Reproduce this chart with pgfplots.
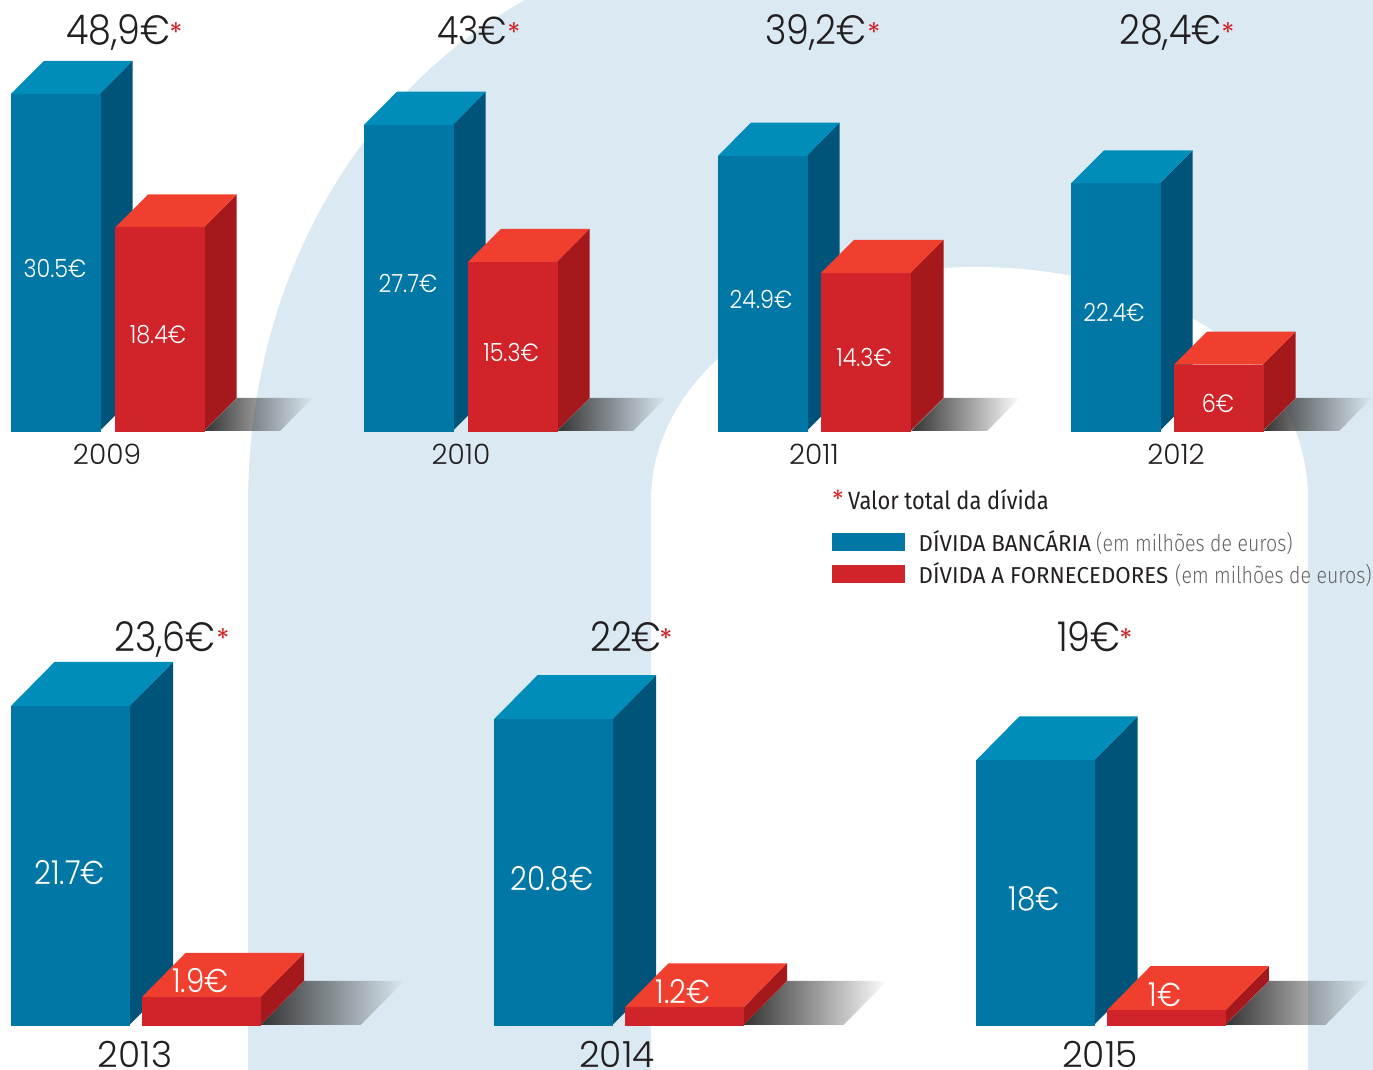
\documentclass[border=0pt]{standalone}
\usepackage{fontspec}
\setmainfont{Poppins Light}[FakeStretch=0.89]
\newfontfamily\yr{Poppins Light}
\newfontfamily\reg{Poppins}
\newfontfamily\leg{Fira Sans}[FakeStretch=0.97]
\newfontfamily\legn{Fira Sans}[FakeStretch=0.875]
\newfontfamily\legl{Fira Sans Light}[FakeStretch=0.85]
\usepackage{pgfplots}
\pgfplotsset{compat=1.18}
\usetikzlibrary{fadings}
\definecolor{blueF}{HTML}{0077A4}
\definecolor{blueS}{HTML}{005479}
\definecolor{blueT}{HTML}{008DBA}
\definecolor{redF}{HTML}{D0232A}
\definecolor{redS}{HTML}{A5181B}
\definecolor{redT}{HTML}{F13F2F}
\definecolor{pale}{HTML}{DAE9F2}
\definecolor{ink}{HTML}{231F20}
\pgfplotsset{base/.style={hide axis,scale only axis,clip=false,xmin=0,xmax=1373,width=1373pt,anchor=south west,no markers}}
% x0, value, width, depth x, front, side, top
\newcommand{\barthree}[7]{%
  \pgfmathsetmacro{\xa}{#1+#3}\pgfmathsetmacro{\xb}{#1+#4}\pgfmathsetmacro{\xc}{#1+#3+#4}\pgfmathsetmacro{\yt}{#2+3}%
  \addplot[draw=none,fill=#6] coordinates {(\xa,0)(\xc,3)(\xc,\yt)(\xa,#2)} --cycle;
  \addplot[draw=none,fill=#7] coordinates {(#1,#2)(\xb,\yt)(\xc,\yt)(\xa,#2)} --cycle;
  \addplot[draw=#5,line width=0.3pt,fill=#5] coordinates {(#1,0)(\xa,0)(\xa,#2)(#1,#2)} --cycle;
}
% x0 of the shadow, depth x, length
\newcommand{\shadow}[3]{%
  \pgfmathsetmacro{\xb}{#1+#2}\pgfmathsetmacro{\xc}{#1+#3}\pgfmathsetmacro{\xd}{#1+#2+#3}%
  \addplot[draw=none,fill=black!80,path fading=east] coordinates {(#1,0)(\xb,3)(\xd,3)(\xc,0)} --cycle;
}
\newcommand{\bigtot}[3]{\node[anchor=base west,text=ink,inner sep=0pt] at (axis cs:#1,#2) {\fontsize{41}{41}\selectfont #3};}
\newcommand{\astk}[2]{\node[text=redF,inner sep=0pt] at (axis cs:#1,#2) {\fontsize{27}{27}\selectfont\reg *};}
\newcommand{\lab}[5]{\node[text=#5,inner sep=0pt] at (axis cs:#1,#2) {\fontsize{#3}{#3}\selectfont #4};}
\begin{document}
\begin{tikzpicture}[x=1pt,y=1pt]
\path[use as bounding box] (0,0) rectangle (1373,1070);
% background
\begin{axis}[base,at={(0pt,0pt)},height=1070pt,ymin=0,ymax=1070,y dir=reverse]
\fill[pale] (axis cs:248,1070) -- (axis cs:248,500) .. controls (axis cs:250,270) and (axis cs:365,90) .. (axis cs:525,0) -- (axis cs:1373,0) -- (axis cs:1373,1070) -- cycle;
\fill[white] (axis cs:651,1070) -- (axis cs:651,500) .. controls (axis cs:651,370) and (axis cs:800,267) .. (axis cs:975,267) .. controls (axis cs:1150,267) and (axis cs:1308,350) .. (axis cs:1308,500) -- (axis cs:1308,1070) -- cycle;
\end{axis}
% top row: 11.05 px per unit
\begin{axis}[base,at={(0pt,639pt)},height=431pt,ymin=0,ymax=39.0]
\barthree{11}{30.5}{88.7}{33}{blueF}{blueS}{blueT}
\shadow{204}{33}{76}
\barthree{115}{18.4}{88.7}{33}{redF}{redS}{redT}
\barthree{364}{27.7}{88.7}{33}{blueF}{blueS}{blueT}
\shadow{557}{33}{76}
\barthree{468}{15.3}{88.7}{33}{redF}{redS}{redT}
\barthree{718}{24.9}{88.7}{33}{blueF}{blueS}{blueT}
\shadow{911}{33}{76}
\barthree{821}{14.3}{89.5}{33}{redF}{redS}{redT}
\barthree{1071}{22.4}{88.7}{33}{blueF}{blueS}{blueT}
\shadow{1263}{33}{76}
\barthree{1174}{6}{88.7}{33}{redF}{redS}{redT}
\end{axis}
% bottom row: 14.7 px per unit
\begin{axis}[base,at={(0pt,45pt)},height=1025pt,ymin=0,ymax=69.73]
\barthree{11}{21.7}{118.5}{43.5}{blueF}{blueS}{blueT}
\shadow{260.7}{43.5}{100}
\barthree{142}{1.9}{118.5}{43.5}{redF}{redS}{redT}
\barthree{494}{20.8}{118.5}{43.5}{blueF}{blueS}{blueT}
\shadow{743.5}{43.5}{100}
\barthree{625}{1.2}{118.5}{43.5}{redF}{redS}{redT}
\barthree{976}{18}{118}{43.5}{blueF}{blueS}{blueT}
\shadow{1225.5}{43.5}{100}
\barthree{1107}{1}{118.3}{43.5}{redF}{redS}{redT}
\end{axis}
% text and legend
\begin{axis}[base,at={(0pt,0pt)},height=1070pt,ymin=0,ymax=1070,y dir=reverse]
\addplot[draw=none,fill=blueF] coordinates {(832,533)(905,533)(905,551)(832,551)} --cycle;
\addplot[draw=none,fill=redF] coordinates {(832,565)(905,565)(905,583)(832,583)} --cycle;
\bigtot{66}{45}{48,9€}\astk{176}{33}
\bigtot{437}{45}{\fontsize{39}{39}\selectfont 43€}\astk{514}{33}
\bigtot{765}{45}{39,2€}\astk{874}{33}
\bigtot{1119}{45}{28,4€}\astk{1228}{33}
\bigtot{114}{651}{23,6€}\astk{223}{639}
\bigtot{590}{651}{22€}\astk{666}{639}
\bigtot{1057}{651}{19€}\astk{1126}{639}
\lab{55}{268}{25}{30.5€}{white}
\lab{158}{335}{25}{18.4€}{white}
\lab{408}{283}{25}{27.7€}{white}
\lab{511}{352}{25}{15.3€}{white}
\lab{761}{299}{25}{24.9€}{white}
\lab{864}{357}{25}{14.3€}{white}
\lab{1114}{312}{25}{22.4€}{white}
\lab{1218}{403}{25}{6€}{white}
\lab{69.5}{873}{33}{21.7€}{white}
\lab{552}{879}{33}{20.8€}{white}
\lab{1034}{899}{33}{18€}{white}
\lab{200.5}{981}{33}{1.9€}{white}
\lab{683}{992}{33}{1.2€}{white}
\lab{1165}{995}{33}{1€}{white}
\lab{107}{454.5}{28}{\yr 2009}{ink}
\lab{461}{454.5}{28}{\yr 2010}{ink}
\lab{814}{454.5}{28}{\yr 2011}{ink}
\lab{1176}{454.5}{28}{\yr 2012}{ink}
\lab{135}{1054.5}{36}{\yr 2013}{ink}
\lab{617}{1054.5}{36}{\yr 2014}{ink}
\lab{1100}{1054.5}{36}{\yr 2015}{ink}
\node[text=redF,inner sep=0pt] at (axis cs:838,499) {\fontsize{25}{25}\selectfont\reg *};
\node[anchor=base west,text=ink,inner sep=0pt] at (axis cs:848,509) {\fontsize{25}{25}\selectfont\legn Valor total da dívida};
\node[anchor=base west,text=ink,inner sep=0pt] at (axis cs:918.5,551) {\fontsize{23}{23}\selectfont\leg DÍVIDA BANCÁRIA};
\node[anchor=base west,text=ink!70,inner sep=0pt] at (axis cs:1096,551) {\fontsize{23}{23}\selectfont\legl (em milhões de euros)};
\node[anchor=base west,text=ink,inner sep=0pt] at (axis cs:918.5,583) {\fontsize{23}{23}\selectfont\leg DÍVIDA A FORNECEDORES};
\node[anchor=base west,text=ink!70,inner sep=0pt] at (axis cs:1175,583) {\fontsize{23}{23}\selectfont\legl (em milhões de euros)};
\end{axis}
\end{tikzpicture}
\end{document}
